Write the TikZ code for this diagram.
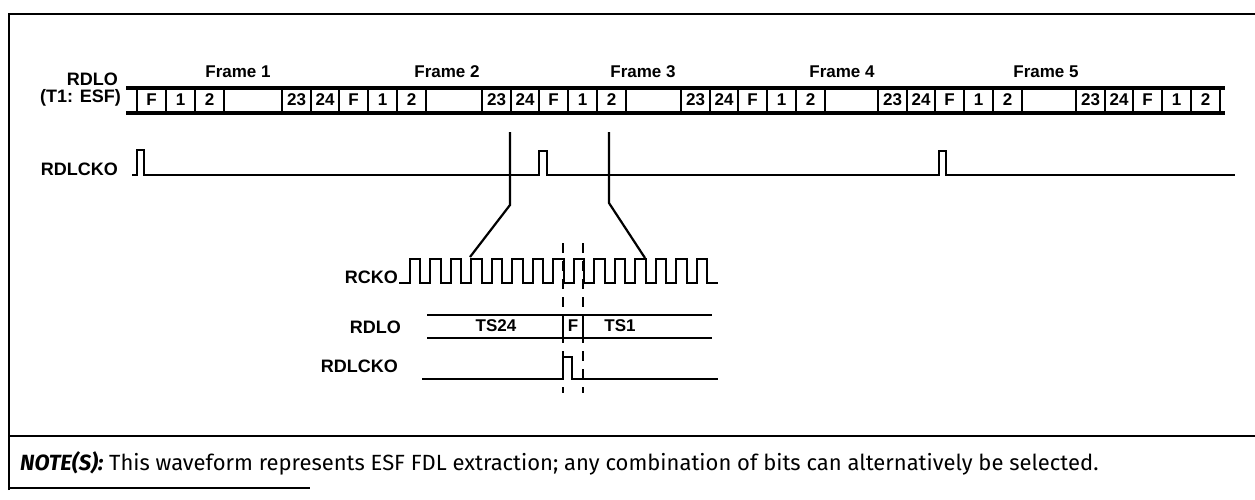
\documentclass[tikz,border=0pt]{standalone}
\usepackage{fontspec}
\setmainfont{Liberation Sans}
\newfontfamily\notefont{Fira Sans}
\usepackage{tikz}
\usetikzlibrary{positioning}

\begin{document}
\begin{tikzpicture}[x=1pt, y=-1pt,
    sig/.style={line width=2.4pt, line join=miter},
    busline/.style={line width=3.8pt},
    cellbar/.style={line width=1.6pt},
    celltxt/.style={font=\bfseries\fontsize{17}{17}\selectfont, inner sep=0pt},
    sigtxt/.style={font=\bfseries\fontsize{18}{20}\selectfont, inner sep=0pt, anchor=base east},
    zoomline/.style={line width=2.2pt},
    markline/.style={line width=2pt, dash pattern=on 10pt off 8pt}]

    \useasboundingbox (0,0) rectangle (1255,499);

    % Border
    \draw[line width=2.8pt] (9,490) -- (9,14) -- (1255,14);
    \draw[line width=2.8pt] (9,436) -- (1255,436);
    \draw[line width=2.8pt] (9,488) -- (310,488);

    % Frame labels
    \foreach \n/\x in {1/238, 2/447, 3/643, 4/842, 5/1046}
        \node[font=\bfseries\fontsize{17}{17}\selectfont, inner sep=0pt, anchor=base] (frame\n) at (\x,77) {Frame \n};

    % RDLO (T1: ESF) bus
    \node[sigtxt] (rdlo) at (118,85) {RDLO};
    \node[sigtxt] (rdloesf) at (121,102) {(T1: ESF)};
    \draw[busline] (126,88) -- (1225,88);
    \draw[busline] (126,113) -- (1225,113);
    \foreach \f [count=\i] in {137, 339, 539, 738, 935, 1133} {
        \draw[cellbar] (\f,88) -- (\f,113);
        \draw[cellbar] ({\f+29},88) -- ({\f+29},113);
        \draw[cellbar] ({\f+58},88) -- ({\f+58},113);
        \draw[cellbar] ({\f+87},88) -- ({\f+87},113);
        \node[celltxt] (bitF\i) at ({\f+14.5},100) {F};
        \node[celltxt] (bitA\i) at ({\f+43.5},100) {1};
        \node[celltxt] (bitB\i) at ({\f+72.5},100) {2};
        \ifnum\i>1
            \draw[cellbar] ({\f-57},88) -- ({\f-57},113);
            \draw[cellbar] ({\f-28},88) -- ({\f-28},113);
            \node[celltxt] (bitY\i) at ({\f-42.5},100) {23};
            \node[celltxt] (bitZ\i) at ({\f-14},100) {24};
        \fi
    }

    % RDLCKO
    \node[sigtxt] (rdlcko) at (118,175) {RDLCKO};
    \draw[sig] (132,175) -- (137,175) -- (137,150) -- (144,150) -- (144,175)
        -- (539,175) -- (539,151) -- (547,151) -- (547,175)
        -- (939,175) -- (939,151) -- (946,151) -- (946,175) -- (1235,175);

    % Zoom lines
    \draw[zoomline] (510,132) -- (510,205) -- (470,257);
    \draw[zoomline] (609,132) -- (609,203) -- (645,258);

    % RCKO
    \node[sigtxt] (rcko) at (398,283) {RCKO};
    \draw[sig, line width=2pt] (399,283) foreach \k in {0,...,14} {
        -- ({409.5+20.5*\k},283) -- ({409.5+20.5*\k},259)
        -- ({420+20.5*\k},259) -- ({420+20.5*\k},283) } -- (718,283);

    % RDLO detail
    \node[sigtxt] (rdlo2) at (401,333) {RDLO};
    \draw[sig] (427,315) -- (712,315);
    \draw[sig] (427,338) -- (712,338);
    \draw[sig] (563,315) -- (563,338);
    \draw[sig] (583,315) -- (583,338);
    \node[celltxt] (ts24) at (496,326) {TS24};
    \node[celltxt] (tsF) at (573,326) {F};
    \node[celltxt] (ts1) at (620,326) {TS1};

    % RDLCKO detail
    \node[sigtxt] (rdlcko2) at (398,372) {RDLCKO};
    \draw[sig] (422,379) -- (563,379) -- (563,357) -- (572,357) -- (572,379) -- (718,379);

    % Markers
    \draw[markline] (563,243) -- (563,393);
    \draw[markline] (583,243) -- (583,393);

    % Note
    \node[anchor=base west, inner sep=0pt, font=\notefont\fontsize{22}{24}\selectfont] (note) at (20,470)
        {\textbf{\textit{NOTE(S):}} This waveform represents ESF FDL extraction; any combination of bits can alternatively be selected.};

\end{tikzpicture}
\end{document}
